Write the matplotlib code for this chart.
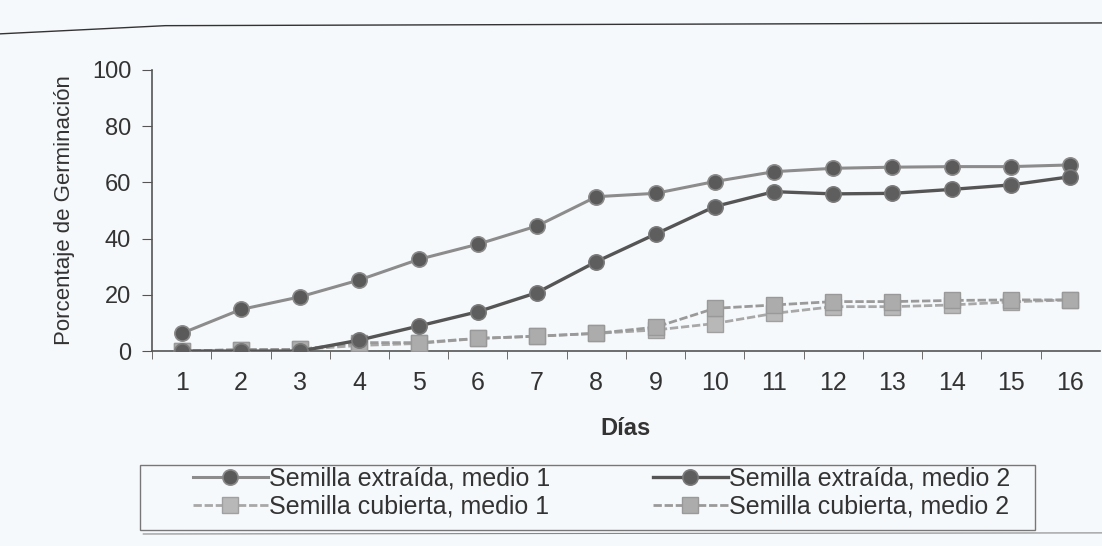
import matplotlib
matplotlib.use("Agg")
import matplotlib.pyplot as plt
from matplotlib.lines import Line2D
from matplotlib.patches import Rectangle

dias = list(range(1, 17))
tick_labels = [str(d) for d in dias]
ext_m1 = [6.3, 14.8, 19.3, 25.3, 32.6, 38.0, 44.5, 54.9, 56.1, 60.3, 63.8, 65.0, 65.4, 65.6, 65.6, 66.2]
ext_m2 = [0.0, 0.0, 0.0, 3.9, 8.9, 14.0, 20.8, 31.8, 41.6, 51.4, 56.7, 55.9, 56.1, 57.5, 59.1, 62.0]
cub_m1 = [0.0, 0.5, 0.6, 2.0, 2.7, 4.5, 5.3, 6.3, 7.5, 9.8, 13.4, 15.8, 15.8, 16.4, 17.5, 18.2]
cub_m2 = [0.0, 0.5, 0.6, 3.0, 3.0, 4.5, 5.3, 6.3, 8.5, 15.2, 16.4, 17.6, 17.6, 18.0, 18.2, 18.2]
labels = ["Semilla extraída, medio 1", "Semilla extraída, medio 2",
          "Semilla cubierta, medio 1", "Semilla cubierta, medio 2"]

plt.rcParams['font.family'] = ['Liberation Sans', 'DejaVu Sans']
bg = '#f6f9fb'
fig = plt.figure(figsize=(11.02, 5.46), dpi=100, facecolor=bg)
ax = fig.add_axes([0.138, 0.357, 0.860, 0.515])
ax.set_facecolor(bg)

l1, = ax.plot(dias, ext_m1, color='#8c8c8c', lw=2.2, marker='o', ms=11,
              mfc='#5a5a5a', mec='#8a8a8a', mew=1.2, zorder=4)
l2, = ax.plot(dias, ext_m2, color='#555555', lw=2.4, marker='o', ms=11,
              mfc='#5e5e5e', mec='#7a7a7a', mew=1.2, zorder=4)
l3, = ax.plot(dias, cub_m1, color='#a8a8a8', lw=2.0, ls=(0, (3, 1)), marker='s', ms=12,
              mfc='#b8b8b8', mec='#a0a0a0', mew=1.0, zorder=3)
l4, = ax.plot(dias, cub_m2, color='#9a9a9a', lw=2.0, ls=(0, (3, 1)), marker='s', ms=12,
              mfc='#acacac', mec='#999999', mew=1.0, zorder=3)

ax.set_xlim(0.5, 16.5)
ax.set_ylim(0, 100)
ax.set_xticks(dias)
ax.set_xticklabels(tick_labels)
ax.set_xticks([d + 0.5 for d in range(0, 16)], minor=True)
ax.tick_params(axis='x', which='major', length=0, pad=14, labelsize=18, labelcolor='#333333')
ax.tick_params(axis='x', which='minor', length=6, direction='out', color='#555555')
ax.set_yticks([0, 20, 40, 60, 80, 100])
ax.tick_params(axis='y', length=7, direction='out', pad=8, labelsize=17, labelcolor='#333333', color='#555555')
for s in ['top', 'right']:
    ax.spines[s].set_visible(False)
for s in ['left', 'bottom']:
    ax.spines[s].set_color('#555555')
    ax.spines[s].set_linewidth(1.2)
ax.set_ylabel("Porcentaje de Germinación", fontsize=16, color='#333333', labelpad=12)
ax.set_xlabel("Días", fontsize=17, fontweight='bold', color='#333333', labelpad=16)

# legend frame
fig.add_artist(Rectangle((0.127, 0.030), 0.812, 0.118, transform=fig.transFigure,
                         fill=False, edgecolor='#777777', lw=1.0))
leg = fig.legend([l1, l3, l2, l4], [labels[0], labels[2], labels[1], labels[3]],
                 loc='upper left', bbox_to_anchor=(0.175, 0.145),
                 ncol=2, fontsize=18, frameon=False,
                 handlelength=3.0, handletextpad=0.05, borderpad=0.0, borderaxespad=0.0,
                 labelspacing=0.15, columnspacing=4.1)
for t in leg.get_texts():
    t.set_color('#333333')

# scanned page edge line at top and beneath legend
fig.add_artist(Line2D([0.0, 0.15, 1.0], [0.938, 0.953, 0.958], color='#333333', lw=1.0))
fig.add_artist(Line2D([0.13, 1.0], [0.022, 0.024], color='#888888', lw=0.8))

fig.savefig("out.png", dpi=100, facecolor=bg)
